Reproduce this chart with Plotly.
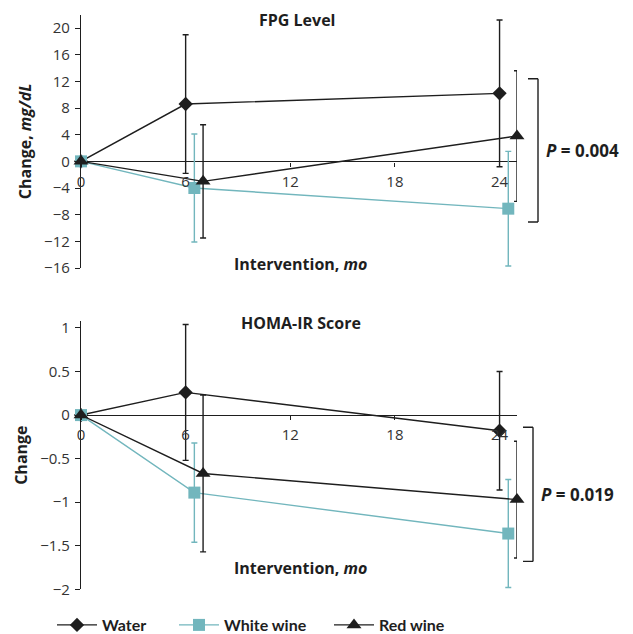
import plotly.graph_objects as go

# ---------------- data ----------------
months = [0, 6, 24]
series = ["Water", "White wine", "Red wine"]
dodge = [0.0, 0.5, 1.0]          # horizontal dodge of the groups (months)

fpg_water = [0, 8.6, 10.2]
fpg_water_err = [0, 10.4, 11.0]
fpg_white = [0, -4.0, -7.1]
fpg_white_err = [0, 8.1, 8.6]
fpg_red = [0, -3.0, 3.8]
fpg_red_err = [0, 8.5, 9.8]

homa_water = [0, 0.26, -0.18]
homa_water_err = [0, 0.78, 0.68]
homa_white = [0, -0.89, -1.36]
homa_white_err = [0, 0.57, 0.62]
homa_red = [0, -0.67, -0.97]
homa_red_err = [0, 0.90, 0.67]

fpg_ticks = [-16, -12, -8, -4, 0, 4, 8, 12, 16, 20]
homa_ticks = [-2, -1.5, -1, -0.5, 0, 0.5, 1]
x_ticks = [0, 6, 12, 18, 24]

fpg_bracket = [12.4, -9.1]
homa_bracket = [-0.14, -1.68]
p_fpg = "<b><i>P</i> = 0.004</b>"
p_homa = "<b><i>P</i> = 0.019</b>"

# ---------------- styling ----------------
W, H = 633, 634
FONT = "Open Sans"
LEGFONT = "Lato"
INK = "#1e1e1e"
TEAL = "#72b6bd"
colors = [INK, TEAL, INK]
symbols = ["diamond", "square", "triangle-up"]
msize = [11, 12, 13]


def px_x(p):
    return p / W


def px_y(p):
    return 1 - p / H


fig = go.Figure()

fpg = [(fpg_water, fpg_water_err), (fpg_white, fpg_white_err), (fpg_red, fpg_red_err)]
homa = [(homa_water, homa_water_err), (homa_white, homa_white_err), (homa_red, homa_red_err)]

legends = ["legend", "legend2", "legend3"]

for panel, (data, xa, ya) in enumerate([(fpg, "x", "y"), (homa, "x2", "y2")]):
    for i, name in enumerate(series):
        vals, err = data[i]
        xs = [m + dodge[i] if m > 0 else m for m in months]
        fig.add_trace(go.Scatter(
            x=xs, y=vals, name=name, mode="lines+markers",
            xaxis=xa, yaxis=ya,
            line=dict(color=colors[i], width=1.4),
            marker=dict(symbol=symbols[i], size=msize[i], color=colors[i]),
            error_y=dict(type="data", array=err, symmetric=True,
                         color=colors[i], thickness=1.4, width=3),
            showlegend=(panel == 0), legend=legends[i],
            cliponaxis=False,
        ))

axis_font = dict(family=FONT, size=15, color="#333333")

common_x = dict(range=[0, 25], tickvals=x_ticks, ticks="outside", ticklen=4,
                tickcolor=INK, tickwidth=1.2, showline=False, showgrid=False,
                zeroline=False, tickfont=axis_font, anchor="free",
                ticklabelstandoff=2)
common_y = dict(showline=True, linecolor=INK, linewidth=1.4, ticks="outside",
                ticklen=5, tickcolor=INK, tickwidth=1.2, showgrid=False,
                zeroline=True, zerolinecolor=INK, zerolinewidth=1.4,
                tickfont=axis_font, ticklabelstandoff=2)

xdom = [px_x(81), px_x(517)]
fig.update_layout(
    width=W, height=H, margin=dict(l=0, r=0, t=0, b=0, autoexpand=False),
    paper_bgcolor="white", plot_bgcolor="white",
    font=dict(family=FONT, color=INK),
    xaxis=dict(domain=xdom, position=px_y(161.7), **common_x),
    xaxis2=dict(domain=xdom, position=px_y(415.3), **common_x),
    yaxis=dict(domain=[px_y(268), px_y(14.7)], range=[-16, 22], tickvals=fpg_ticks,
               anchor="x",
               title=dict(text="<b>Change, <i>mg/dL</i></b>", standoff=8,
                          font=dict(family=FONT, size=16, color=INK)),
               **common_y),
    yaxis2=dict(domain=[px_y(589.3), px_y(321)], range=[-2, 1.08], tickvals=homa_ticks,
                anchor="x2",
                title=dict(text="<b>Change</b>", standoff=8,
                           font=dict(family=FONT, size=16, color=INK)),
                **common_y),
)

leg_common = dict(orientation="h", yanchor="middle", xanchor="left",
                  font=dict(family=LEGFONT, size=16, color=INK, weight="bold"),
                  bgcolor="rgba(0,0,0,0)", itemwidth=40)
fig.update_layout(
    legend=dict(x=px_x(52), y=px_y(625), **leg_common),
    legend2=dict(x=px_x(174), y=px_y(625), **leg_common),
    legend3=dict(x=px_x(329), y=px_y(625), **leg_common),
)

ann = []
title_font = dict(family=FONT, size=16, color=INK)
ann.append(dict(text="<b>FPG Level</b>", x=px_x(297), y=px_y(20), xref="paper", yref="paper",
                xanchor="center", yanchor="middle", showarrow=False, font=title_font))
ann.append(dict(text="<b>HOMA-IR Score</b>", x=px_x(301), y=px_y(323), xref="paper", yref="paper",
                xanchor="center", yanchor="middle", showarrow=False, font=title_font))
for yc in (264, 568):
    ann.append(dict(text="<b>Intervention, <i>mo</i></b>", x=px_x(300), y=px_y(yc),
                    xref="paper", yref="paper", xanchor="center", yanchor="middle",
                    showarrow=False, font=title_font))

# P-value brackets
shapes = []
for (top, bot), yref, xb, text in [(fpg_bracket, "y", 538, p_fpg), (homa_bracket, "y2", 533, p_homa)]:
    line = dict(color=INK, width=1.4)
    shapes.append(dict(type="line", xref="paper", yref=yref, x0=px_x(xb), x1=px_x(xb), y0=top, y1=bot, line=line))
    shapes.append(dict(type="line", xref="paper", yref=yref, x0=px_x(xb - 10), x1=px_x(xb), y0=top, y1=top, line=line))
    shapes.append(dict(type="line", xref="paper", yref=yref, x0=px_x(xb - 10), x1=px_x(xb), y0=bot, y1=bot, line=line))
    ann.append(dict(text=text, x=px_x(xb + 6), y=(top + bot) / 2, xref="paper", yref=yref,
                    xanchor="left", yanchor="middle", showarrow=False,
                    font=dict(family=FONT, size=17, color=INK)))

fig.update_layout(annotations=ann, shapes=shapes)

fig.write_html("out.html")
